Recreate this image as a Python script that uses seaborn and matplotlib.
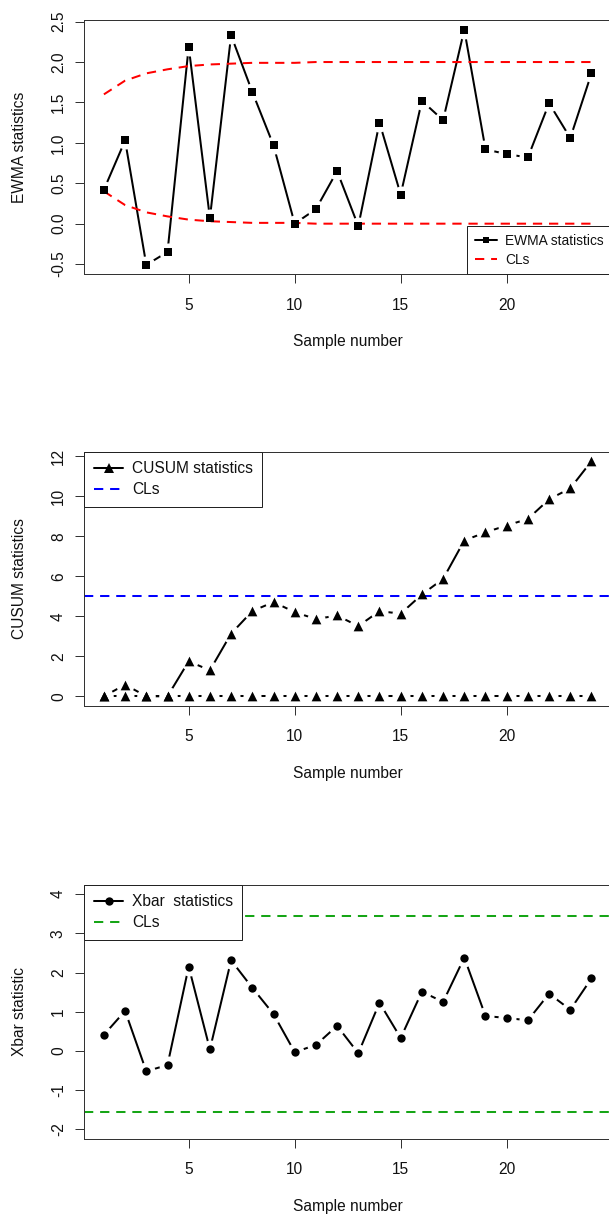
import matplotlib
matplotlib.use("Agg")
import matplotlib.pyplot as plt
from matplotlib.lines import Line2D
import seaborn as sns

# ---- data ---------------------------------------------------------------
samples = list(range(1, 25))
x_ticks = [5, 10, 15, 20]

ewma_stat = [0.42, 1.03, -0.51, -0.35, 2.19, 0.07, 2.33, 1.63, 0.97, 0.00,
             0.18, 0.65, -0.03, 1.25, 0.36, 1.52, 1.28, 2.40, 0.92, 0.86,
             0.82, 1.49, 1.06, 1.86]
ewma_ucl = [1.60, 1.77, 1.86, 1.91, 1.95, 1.97, 1.98, 1.99, 1.99, 1.99,
            2.00, 2.00, 2.00, 2.00, 2.00, 2.00, 2.00, 2.00, 2.00, 2.00,
            2.00, 2.00, 2.00, 2.00]
ewma_lcl = [0.40, 0.23, 0.14, 0.09, 0.05, 0.03, 0.02, 0.01, 0.01, 0.01,
            0.00, 0.00, 0.00, 0.00, 0.00, 0.00, 0.00, 0.00, 0.00, 0.00,
            0.00, 0.00, 0.00, 0.00]
ewma_yticks = [-0.5, 0.0, 0.5, 1.0, 1.5, 2.0, 2.5]
ewma_ytick_labels = ["-0.5", "0.0", "0.5", "1.0", "1.5", "2.0", "2.5"]

cusum_upper = [0.00, 0.58, 0.00, 0.00, 1.75, 1.30, 3.13, 4.26, 4.71, 4.21,
               3.86, 4.04, 3.51, 4.26, 4.13, 5.09, 5.87, 7.79, 8.20, 8.54,
               8.87, 9.85, 10.40, 11.76]
cusum_lower = [0.00, 0.00, 0.00, 0.00, 0.00, 0.00, 0.00, 0.00, 0.00, 0.00,
               0.00, 0.00, 0.00, 0.00, 0.00, 0.00, 0.00, 0.00, 0.00, 0.00,
               0.00, 0.00, 0.00, 0.00]
cusum_limit = 5.0
cusum_yticks = [0, 2, 4, 6, 8, 10, 12]

xbar_stat = [0.41, 1.02, -0.52, -0.36, 2.15, 0.04, 2.31, 1.61, 0.94, -0.03,
             0.15, 0.64, -0.06, 1.23, 0.33, 1.51, 1.25, 2.38, 0.89, 0.84,
             0.78, 1.46, 1.05, 1.85]
xbar_ucl = 3.44
xbar_lcl = -1.56
xbar_ylim = (-2, 4)
xbar_yticks = [-2, -1, 0, 1, 2, 3, 4]

# ---- style --------------------------------------------------------------
sns.set_style("ticks")
plt.rcParams["font.family"] = ["Liberation Sans", "DejaVu Sans"]
plt.rcParams["axes.unicode_minus"] = False

FS = 11.2            # axis text size (pt)
LW = 1.45            # statistic / limit line width (pt)
DASH = (0, (4.6, 3.4))
HALO = 13.0          # blank gap around each point, like R's type = "b"
FRAME = "#333333"
RED, BLUE, GREEN = "#FF0000", "#0000FF", "#16A516"
SQ, TRI, DOT = 5.4, 7.0, 6.0   # marker sizes (pt)

W, H = 609, 1217
fig = plt.figure(figsize=(W / 100, H / 100), dpi=100)

AX_LEFT, AX_RIGHT, AX_H = 84.4, 611.0, 254.0
panel_bottoms = [274.3, 705.7, 1138.7]


def r_range(lo, hi):
    """R's default 4 % extension of an axis range."""
    span = hi - lo
    return lo - 0.04 * span, hi + 0.04 * span


def make_axes(bottom_px):
    rect = [AX_LEFT / W, (H - bottom_px) / H, (AX_RIGHT - AX_LEFT) / W, AX_H / H]
    return fig.add_axes(rect)


def draw_series(ax, x, y, marker, msize):
    sns.lineplot(x=x, y=y, ax=ax, color="black", linewidth=LW,
                 sort=False, estimator=None, zorder=2.0)
    sns.scatterplot(x=x, y=y, ax=ax, marker="o", s=HALO ** 2, color="white",
                    linewidth=0, zorder=2.05)
    sns.scatterplot(x=x, y=y, ax=ax, marker=marker, s=msize ** 2,
                    color="black", linewidth=0, zorder=2.2)


def style_axes(ax, ylim, yticks, ylabels, ylabel):
    ax.set_xlim(*r_range(min(samples), max(samples)))
    ax.set_ylim(*ylim)
    ax.set_xticks(x_ticks, labels=[str(t) for t in x_ticks])
    ax.set_yticks(yticks, labels=ylabels)
    ax.tick_params(axis="both", direction="out", length=6.8, width=0.72,
                   color=FRAME, labelsize=FS, labelcolor="#111111")
    ax.tick_params(axis="x", pad=10)
    ax.tick_params(axis="y", pad=6.5, labelrotation=90)
    for t in ax.get_yticklabels():
        t.set_verticalalignment("center")
    for sp in ax.spines.values():
        sp.set_visible(True)
        sp.set_linewidth(0.72)
        sp.set_color(FRAME)
    ax.set_xlabel("Sample number", fontsize=FS, color="#111111")
    ax.xaxis.set_label_coords(0.5, -67.5 / AX_H)
    ax.xaxis.label.set_verticalalignment("center")
    ax.set_ylabel(ylabel, fontsize=FS, color="#111111")
    ax.yaxis.set_label_coords(-(AX_LEFT - 19.5) / (AX_RIGHT - AX_LEFT), 0.5)
    ax.yaxis.label.set_verticalalignment("center")


def add_legend(ax, marker, msize, cl_color, label, loc, anchor, fs,
               pad, spacing, hlen, tpad):
    handles = [
        Line2D([], [], color="black", lw=LW, marker=marker, markersize=msize,
               markeredgewidth=0),
        Line2D([], [], color=cl_color, lw=LW, linestyle=DASH),
    ]
    leg = ax.legend(handles=handles, labels=[label, "CLs"], loc=loc,
                    bbox_to_anchor=anchor, borderaxespad=0, fontsize=fs,
                    frameon=True, fancybox=False, framealpha=1,
                    facecolor="white", edgecolor="#222222", borderpad=pad,
                    labelspacing=spacing, handlelength=hlen,
                    handletextpad=tpad, numpoints=1)
    leg.get_frame().set_linewidth(0.72)
    for t in leg.get_texts():
        t.set_color("#111111")


# ---- EWMA chart ---------------------------------------------------------
ax1 = make_axes(panel_bottoms[0])
draw_series(ax1, samples, ewma_stat, "s", SQ)
sns.lineplot(x=samples, y=ewma_ucl, ax=ax1, color=RED, linewidth=LW,
             linestyle=DASH, sort=False, estimator=None, zorder=2.1)
sns.lineplot(x=samples, y=ewma_lcl, ax=ax1, color=RED, linewidth=LW,
             linestyle=DASH, sort=False, estimator=None, zorder=2.1)
ewma_all = ewma_stat + ewma_ucl + ewma_lcl
style_axes(ax1, r_range(min(ewma_all), max(ewma_all)), ewma_yticks,
           ewma_ytick_labels, "EWMA statistics")
add_legend(ax1, "s", SQ * 0.9, RED, "EWMA statistics", "lower right", (1, 0),
           9.9, 0.55, 0.35, 1.6, 0.6)

# ---- CUSUM chart --------------------------------------------------------
ax2 = make_axes(panel_bottoms[1])
draw_series(ax2, samples, cusum_upper, "^", TRI)
draw_series(ax2, samples, cusum_lower, "^", TRI)
ax2.axhline(cusum_limit, color=BLUE, linewidth=LW, linestyle=DASH, zorder=2.1)
cusum_all = cusum_upper + cusum_lower
style_axes(ax2, r_range(min(cusum_all), max(cusum_all)), cusum_yticks,
           [str(t) for t in cusum_yticks], "CUSUM statistics")
add_legend(ax2, "^", TRI, BLUE, "CUSUM statistics", "upper left", (0, 1),
           FS, 0.6, 0.4, 1.9, 0.55)

# ---- Xbar chart ---------------------------------------------------------
ax3 = make_axes(panel_bottoms[2])
draw_series(ax3, samples, xbar_stat, "o", DOT)
ax3.axhline(xbar_ucl, color=GREEN, linewidth=LW, linestyle=DASH, zorder=2.1)
ax3.axhline(xbar_lcl, color=GREEN, linewidth=LW, linestyle=DASH, zorder=2.1)
style_axes(ax3, r_range(*xbar_ylim), xbar_yticks,
           [str(t) for t in xbar_yticks], "Xbar statistic")
add_legend(ax3, "o", DOT, GREEN, "Xbar  statistics", "upper left", (0, 1),
           FS, 0.6, 0.4, 1.9, 0.55)

fig.savefig("out.png", dpi=100)
